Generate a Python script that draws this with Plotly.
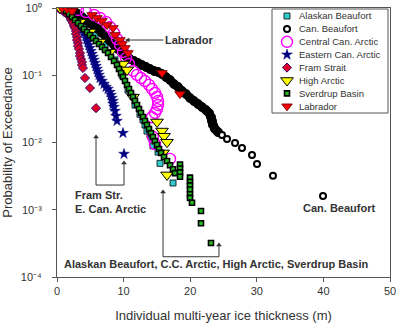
import math
import plotly.graph_objects as go

# ---------------- data ----------------
alaskan_x = [1.20, 2.70, 4.20, 5.71, 7.21, 8.71, 9.76, 10.66, 11.71, 12.46, 12.91, 13.21, 13.51, 13.96, 14.26, 14.41, 15.17, 15.47, 17.42]
alaskan_p = [0.966, 0.787, 0.558, 0.397, 0.282, 0.169, 0.101, 0.060, 0.036, 0.0263, 0.0216, 0.0182, 0.0148, 0.0129, 0.0113, 0.0089, 0.0072, 0.0049, 0.0025]

canb_x = [1.95, 2.55, 3.15, 3.75, 4.35, 4.95, 5.56, 6.16, 6.76, 7.36, 7.96, 8.56, 9.16, 9.76, 10.36, 10.96,
          11.56, 12.16, 12.76, 13.36, 13.96, 14.56, 15.17, 15.77, 16.37, 16.97, 17.57, 18.17, 18.77, 19.37,
          19.97, 20.57, 21.17, 21.77, 22.37, 22.82, 23.12, 23.27, 23.42, 23.72, 24.17,
          24.77, 25.53, 26.73, 27.78, 29.28, 30.03, 32.43, 39.94]
canb_p = [1.0, 0.902, 0.814, 0.735, 0.663, 0.598, 0.540, 0.487, 0.425, 0.371, 0.323, 0.282, 0.246, 0.214, 0.193, 0.174,
          0.163, 0.152, 0.142, 0.133, 0.124, 0.116, 0.112, 0.104, 0.094, 0.085, 0.074, 0.067, 0.0583, 0.0526,
          0.0459, 0.0414, 0.0374, 0.0337, 0.0304, 0.0275, 0.0239, 0.0209, 0.0182, 0.0159, 0.0143,
          0.0129, 0.0113, 0.0098, 0.0083, 0.0065, 0.0048, 0.0032, 0.0016]
canb_dense_count = 41  # first points form the solid band, the rest are the sparse tail

central_x = [0.75, 1.95, 3.15, 4.35, 5.56, 6.46, 7.36, 7.96, 8.56, 9.01, 9.46, 9.91, 10.36, 10.81, 11.41, 12.01,
             12.61, 13.21, 13.81, 14.26, 14.71, 15.02, 15.17, 15.17, 15.02, 14.71, 14.26, 14.41, 14.71, 16.97]
central_p = [1.0, 0.966, 0.934, 0.872, 0.787, 0.710, 0.619, 0.522, 0.425, 0.346, 0.282, 0.222, 0.180, 0.147, 0.116, 0.101,
             0.091, 0.082, 0.072, 0.0625, 0.0545, 0.0475, 0.0414, 0.0361, 0.0314, 0.0275, 0.0238, 0.0121, 0.0095, 0.0057]

eastern_x = [1.05, 1.50, 1.95, 2.40, 2.85, 3.30, 3.75, 4.05, 4.35, 4.50, 4.65, 4.80, 4.95, 5.11, 5.26, 5.41,
             5.56, 5.71, 5.86, 6.01, 6.16, 6.31, 6.46, 6.76, 7.06, 7.36, 7.66, 7.96, 8.11, 8.26, 8.41, 8.41,
             8.56, 8.71, 8.86, 9.01, 9.91, 10.06]
eastern_p = [0.966, 0.872, 0.760, 0.663, 0.578, 0.521, 0.471, 0.425, 0.383, 0.346, 0.312, 0.282, 0.254, 0.229, 0.207, 0.187,
             0.169, 0.152, 0.137, 0.124, 0.112, 0.101, 0.091, 0.082, 0.074, 0.067, 0.0625, 0.0564, 0.0508, 0.0459, 0.0414, 0.0374,
             0.0337, 0.0294, 0.0248, 0.0209, 0.0138, 0.00675]

fram_x = [0.45, 0.90, 1.35, 1.65, 1.95, 2.10, 2.25, 2.40, 2.55, 2.70, 2.85, 2.85, 3.00, 3.00, 3.15, 3.15,
          3.30, 3.45, 3.45, 3.60, 3.75, 3.75, 3.90, 4.20, 4.95, 5.86]
fram_p = [0.966, 0.902, 0.843, 0.787, 0.735, 0.686, 0.641, 0.598, 0.540, 0.504, 0.455, 0.411, 0.371, 0.334, 0.302, 0.272,
          0.246, 0.214, 0.193, 0.174, 0.157, 0.142, 0.128, 0.091, 0.0646, 0.0324]

high_x = [0.45, 1.95, 3.45, 4.95, 6.46, 7.96, 9.91, 10.51, 11.41, 15.02, 15.77, 16.07, 16.52, 15.92, 16.52]
high_p = [1.0, 0.872, 0.619, 0.440, 0.312, 0.221, 0.147, 0.120, 0.0473, 0.0202, 0.0148, 0.0124, 0.0101, 0.0070, 0.0033]

sverdrup_x = [0.90, 1.35, 1.80, 2.25, 2.70, 3.15, 3.60, 4.05, 4.50, 4.95, 5.41, 5.86, 6.31, 6.76, 7.21, 7.66,
              8.11, 8.56, 9.01, 9.31, 9.61, 9.91, 10.21, 10.51, 10.81, 11.11, 11.41, 11.71, 12.01, 12.31, 12.61, 12.91,
              13.21, 13.51, 13.81, 14.11, 14.41, 14.71, 15.02, 15.32, 15.62, 16.07, 16.52, 16.97, 17.42, 17.72,
              18.47, 18.47, 18.47, 18.47, 19.97, 19.97, 19.97, 19.97, 19.97, 19.97, 20.27, 21.62, 21.62, 23.12]
sverdrup_p = [1.0, 0.902, 0.814, 0.735, 0.663, 0.598, 0.540, 0.487, 0.440, 0.397, 0.358, 0.323, 0.292, 0.263, 0.237, 0.214,
              0.187, 0.163, 0.142, 0.124, 0.108, 0.094, 0.082, 0.0716, 0.0625, 0.0545, 0.0475, 0.0414, 0.0361, 0.0315, 0.0275, 0.0239,
              0.0209, 0.0182, 0.0159, 0.0138, 0.0121, 0.0105, 0.0092, 0.0080, 0.0070, 0.0061, 0.0053, 0.0046, 0.0040, 0.0035,
              0.0047, 0.0041, 0.0036, 0.0031, 0.0030, 0.0026, 0.0023, 0.0020, 0.0017, 0.0015, 0.00127, 0.00096, 0.00063, 0.00032]

labrador_x = [0.75, 1.50, 2.25, 5.26, 6.01, 6.76, 7.51, 8.41, 8.71, 9.46, 9.76, 10.21, 10.66, 15.77, 18.47]
labrador_p = [1.0, 0.966, 0.902, 0.787, 0.710, 0.641, 0.558, 0.504, 0.397, 0.334, 0.291, 0.254, 0.214, 0.108, 0.0526]

series_names = ["Alaskan Beaufort", "Can. Beaufort", "Central Can. Arctic", "Eastern Can. Arctic",
                "Fram Strait", "High Arctic", "Sverdrup Basin", "Labrador"]

x_ticks = [0, 10, 20, 30, 40, 50]
y_tick_vals = [1, 0.1, 0.01, 0.001, 0.0001]
y_tick_text = ["10\u2070", "10\u207b\u00b9", "10\u207b\u00b2", "10\u207b\u00b3", "10\u207b\u2074"]

# bracket geometry for the callouts (x in m, y as probability)
fram_bracket = dict(x_left=5.86, x_right=10.06, y_base=0.00233, y_left_tip=0.0121, y_right_tip=0.00495)
group_bracket = dict(x_left=15.92, x_right=24.32, y_base=0.0002, y_left_tip=0.00184, y_right_tip=0.0003)

# ---------------- styles ----------------
FONT = "Arial, Liberation Sans, sans-serif"
INK = "#333333"
AXC = "#555555"
styles = {
    "Alaskan Beaufort": dict(symbol="square", size=6, color="#33CCCC", line=dict(color="black", width=0.8)),
    "Can. Beaufort": dict(symbol="circle", size=6, color="white", line=dict(color="black", width=2)),
    "Central Can. Arctic": dict(symbol="circle-open", size=11, color="#FF00FF", line=dict(color="#FF00FF", width=1.4)),
    "Eastern Can. Arctic": dict(symbol="star", size=8, color="#000080", line=dict(color="#000080", width=0.5)),
    "Fram Strait": dict(symbol="diamond", size=7, color="#E0002A", line=dict(color="#3a0066", width=1)),
    "High Arctic": dict(symbol="triangle-down", size=11, color="#FFFF00", line=dict(color="black", width=1)),
    "Sverdrup Basin": dict(symbol="square", size=5, color="#22BB22", line=dict(color="black", width=1.6)),
    "Labrador": dict(symbol="triangle-down", size=9, color="#FF0000", line=dict(color="#800000", width=1)),
}
canb_dense_style = dict(symbol="circle", size=9, color="black", line=dict(color="black", width=1))

fig = go.Figure()

def add(x, p, name, marker):
    fig.add_trace(go.Scatter(x=x, y=p, mode="markers", name=name, marker=marker,
                             showlegend=False, cliponaxis=True))

add(alaskan_x, alaskan_p, series_names[0], styles[series_names[0]])
add(canb_x[:canb_dense_count], canb_p[:canb_dense_count], series_names[1], canb_dense_style)
add(canb_x[canb_dense_count:], canb_p[canb_dense_count:], series_names[1], styles[series_names[1]])
add(central_x, central_p, series_names[2], styles[series_names[2]])
add(eastern_x, eastern_p, series_names[3], styles[series_names[3]])
add(fram_x, fram_p, series_names[4], styles[series_names[4]])
add(high_x, high_p, series_names[5], styles[series_names[5]])
add(sverdrup_x, sverdrup_p, series_names[6], styles[series_names[6]])
add(labrador_x, labrador_p, series_names[7], styles[series_names[7]])

# ---------------- custom legend (box + keys on an overlay axis spanning the plot) ----------------
W, H = 399, 323
ML, MR, MT, MB = 57, 9, 8, 46
PW, PH = W - ML - MR, H - MT - MB

def paper_x(px):
    return (px - ML) / PW

def paper_y(py):
    return (H - MB - py) / PH

leg_key_px = 287
leg_text_px = 297
leg_top_py = 16
leg_step = 12.9
for i, name in enumerate(series_names):
    yy = paper_y(leg_top_py + i * leg_step)
    fig.add_trace(go.Scatter(x=[paper_x(leg_key_px)], y=[yy], xaxis="x2", yaxis="y2", mode="markers",
                             marker=styles[name], showlegend=False, hoverinfo="skip", cliponaxis=False))
    fig.add_annotation(x=paper_x(leg_text_px), y=yy, xref="paper", yref="paper", text=name,
                       showarrow=False, xanchor="left", yanchor="middle",
                       font=dict(family=FONT, size=9.5, color=INK))
fig.add_shape(type="rect", xref="paper", yref="paper", x0=paper_x(272), x1=paper_x(388),
              y0=paper_y(113), y1=paper_y(9), line=dict(color=AXC, width=1), fillcolor="rgba(0,0,0,0)")

# ---------------- callouts ----------------
L = math.log10
line_style = dict(color=INK, width=1)
fig.add_annotation(x=10.2, y=L(0.334), ax=19.8, ay=L(0.334), axref="x", ayref="y",
                   text="<b>Labrador</b>", showarrow=True, arrowhead=2, arrowsize=0.9, arrowwidth=1,
                   arrowcolor=INK, font=dict(family=FONT, size=11, color=INK))

for b in (fram_bracket, group_bracket):
    fig.add_shape(type="line", xref="x", yref="y", x0=b["x_left"], x1=b["x_left"],
                  y0=b["y_base"], y1=b["y_left_tip"], line=line_style)
    fig.add_shape(type="line", xref="x", yref="y", x0=b["x_left"], x1=b["x_right"],
                  y0=b["y_base"], y1=b["y_base"], line=line_style)
    fig.add_shape(type="line", xref="x", yref="y", x0=b["x_right"], x1=b["x_right"],
                  y0=b["y_base"], y1=b["y_right_tip"], line=line_style)
    fig.add_trace(go.Scatter(x=[b["x_left"], b["x_right"]], y=[b["y_left_tip"], b["y_right_tip"]],
                             mode="markers", showlegend=False, hoverinfo="skip",
                             marker=dict(symbol="triangle-up", size=5, color=INK, line=dict(width=0))))

fig.add_annotation(x=2.4, y=L(0.0013), text="<b>Fram Str.<br>E. Can. Arctic</b>", showarrow=False,
                   xanchor="left", yanchor="middle", align="left", font=dict(family=FONT, size=11, color=INK))
fig.add_annotation(x=23.8, y=L(0.000156), text="<b>Alaskan Beaufort, C.C. Arctic, High Arctic, Sverdrup Basin</b>",
                   showarrow=False, xanchor="center", yanchor="middle", font=dict(family=FONT, size=11, color=INK))
fig.add_annotation(x=42.27, y=L(0.00106), text="<b>Can. Beaufort</b>", showarrow=False,
                   xanchor="center", yanchor="middle", font=dict(family=FONT, size=11, color=INK))

# ---------------- axes / layout ----------------
fig.update_layout(
    template="none",
    width=W, height=H, margin=dict(l=ML, r=MR, t=MT, b=MB, autoexpand=False),
    paper_bgcolor="white", plot_bgcolor="white", showlegend=False,
    font=dict(family=FONT, color=INK),
    xaxis=dict(range=[0, 50], tickvals=x_ticks, ticks="outside", ticklen=4, tickcolor=AXC, automargin=False,
               showline=True, linecolor=AXC, linewidth=1, mirror=True, showgrid=False, zeroline=False,
               tickfont=dict(family=FONT, size=11, color=INK), ticklabelstandoff=0,
               title=dict(text="Individual multi-year ice thickness (m)", standoff=16,
                          font=dict(family=FONT, size=13, color=INK))),
    yaxis=dict(type="log", range=[-4, 0], tickvals=y_tick_vals, ticktext=y_tick_text, ticks="outside", ticklen=4,
               tickcolor=AXC, showline=True, linecolor=AXC, linewidth=1, mirror=True, showgrid=False, automargin=False,
               zeroline=False, tickfont=dict(family=FONT, size=11, color=INK), ticklabelstandoff=8,
               title=dict(text="Probability of Exceedance", standoff=6, font=dict(family=FONT, size=13, color=INK))),
    xaxis2=dict(overlaying="x", range=[0, 1], visible=False, fixedrange=True, automargin=False),
    yaxis2=dict(overlaying="y", range=[0, 1], visible=False, fixedrange=True, automargin=False),
)

fig.write_html("out.html")
